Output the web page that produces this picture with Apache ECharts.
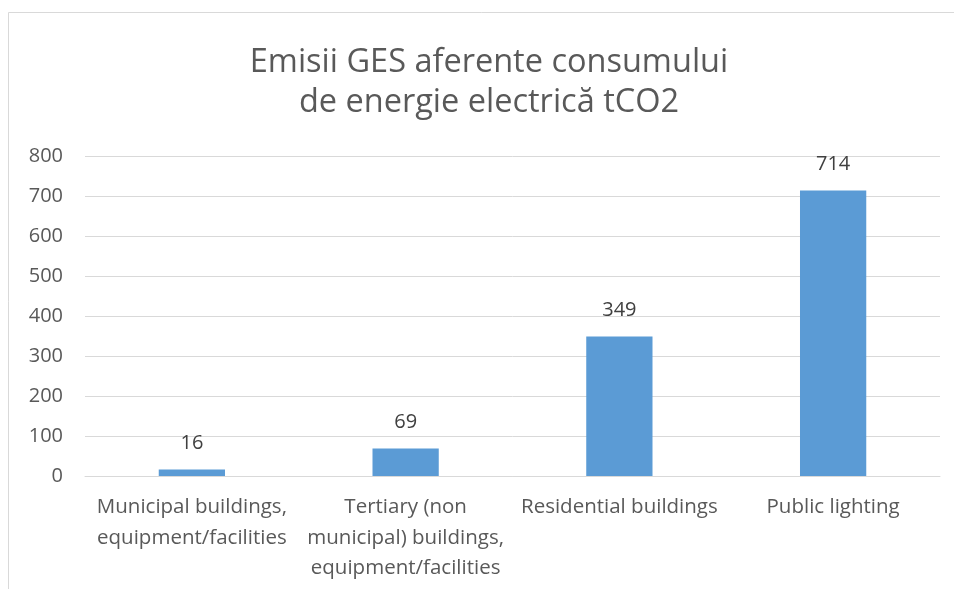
<!DOCTYPE html>
<html><head><meta charset="utf-8">
<script src="https://cdn.jsdelivr.net/npm/echarts@6/dist/echarts.min.js"></script>
<style>html,body{margin:0;padding:0;background:#fff;}#c{width:954px;height:589px;}</style>
</head><body><div id="c"></div>
<script>
const titleLines = ['Emisii GES aferente consumului', 'de energie electrică tCO2'];
const categories = ['Municipal buildings,\nequipment/facilities', 'Tertiary (non\nmunicipal) buildings,\nequipment/facilities', 'Residential buildings', 'Public lighting'];
const values = [16, 69, 349, 714];
const yMin = 0, yMax = 800, yStep = 100;

const font = 'Open Sans, Noto Sans, sans-serif';
const chart = echarts.init(document.getElementById('c'), null, {renderer: 'canvas'});
chart.setOption({
  backgroundColor: '#fff',
  animation: false,
  graphic: [{
    type: 'rect', shape: {x: 8.5, y: 12.5, width: 1000, height: 700},
    style: {fill: 'none', stroke: '#d9d9d9', lineWidth: 1}, silent: true
  }],
  title: {
    text: titleLines.join('\n'),
    left: 484, top: 38, textAlign: 'center',
    textStyle: {fontFamily: font, fontSize: 32.5, fontWeight: 'normal', color: '#595959', lineHeight: 40}
  },
  grid: {left: 85, right: 14, top: 156, bottom: 113, containLabel: false},
  xAxis: {
    type: 'category', data: categories,
    axisLine: {show: true, lineStyle: {color: '#d9d9d9', width: 1}},
    axisTick: {show: false},
    axisLabel: {fontFamily: font, fontSize: 20.5, color: '#595959', lineHeight: 30.5, margin: 16, interval: 0}
  },
  yAxis: {
    type: 'value', min: yMin, max: yMax, interval: yStep,
    axisLine: {show: false}, axisTick: {show: false},
    splitLine: {lineStyle: {color: '#d9d9d9', width: 1}},
    axisLabel: {fontFamily: font, fontSize: 20, color: '#595959', margin: 22}
  },
  series: [{
    type: 'bar', data: values, barWidth: '31%',
    itemStyle: {color: '#5b9bd5'},
    label: {show: true, position: 'top', distance: 16, fontFamily: font, fontSize: 20, color: '#404040'}
  }]
});
</script></body></html>
